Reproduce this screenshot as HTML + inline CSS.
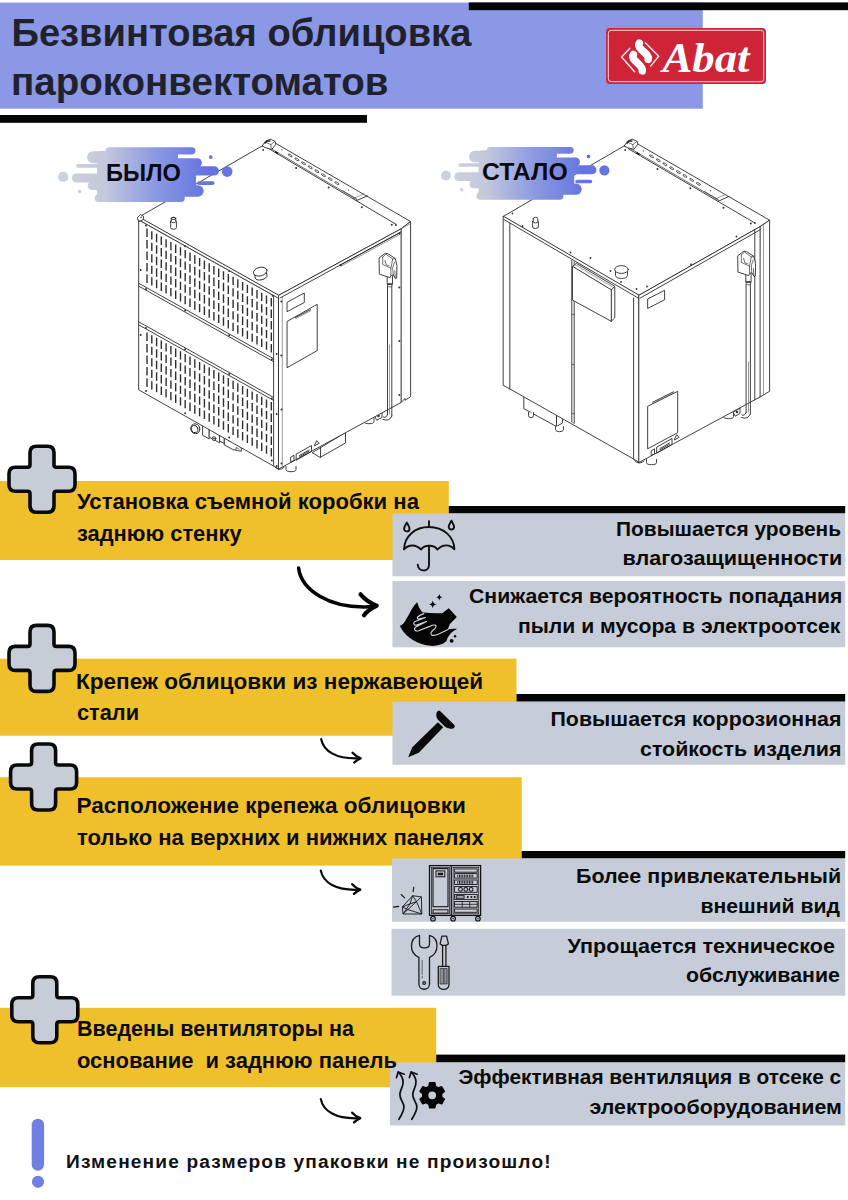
<!DOCTYPE html>
<html lang="ru"><head><meta charset="utf-8"><title>Безвинтовая облицовка пароконвектоматов</title>
<style>
html,body{margin:0;padding:0;background:#fff}
body{width:848px;height:1200px;overflow:hidden;position:relative}
svg{position:absolute;left:0;top:0;display:block}
text{font-family:"Liberation Sans", sans-serif;font-weight:bold;fill:#0b0b0b}
.ln{fill:none;stroke:#2b2b2b;stroke-width:0.9;stroke-linejoin:round;stroke-linecap:round}
.lw{fill:#fff;stroke:#2b2b2b;stroke-width:0.9;stroke-linejoin:round;stroke-linecap:round}
.th{fill:none;stroke:#555;stroke-width:0.6;stroke-linecap:round}
.th2{fill:none;stroke:#333;stroke-width:0.7;stroke-linecap:round;stroke-linejoin:round}
</style></head><body>
<svg width="848" height="1200" viewBox="0 0 848 1200">
<defs>
<linearGradient id="gs" gradientUnits="userSpaceOnUse" x1="72" y1="0" x2="205" y2="0">
<stop offset="0" stop-color="#ccd0d9"/><stop offset="0.25" stop-color="#c3c8dc"/><stop offset="0.6" stop-color="#8f9ce2"/><stop offset="1" stop-color="#6575df"/></linearGradient>
</defs>

<rect x="0" y="2.6" width="702.8" height="106.1" fill="#8a98e5"/>
<rect x="468.8" y="2.4" width="379.2" height="7.8" fill="#050505"/>
<rect x="0" y="115" width="367" height="7.8" fill="#050505"/>
<g id="logo">
<rect x="606" y="28" width="160" height="56" rx="4" fill="#cf2338"/>
<rect x="608.3" y="30.3" width="155.4" height="51.4" rx="3" fill="none" stroke="#f7d5d8" stroke-width="1"/>
<text x="662.5" y="71.5" style="font-family:'Liberation Serif',serif;font-style:italic;font-weight:bold;font-size:42px;fill:#fff" textLength="87" lengthAdjust="spacingAndGlyphs">Abat</text>
</g>
<g id="machines"><polygon class="lw" points="202.6,425 202.6,435.3 209.2,439 209.2,428"/><polygon class="lw" points="209.2,428 209.2,437 219.6,442.8 219.6,434"/><polygon class="lw" points="219.6,434 219.6,441 224.3,443.6 224.3,436"/><polygon class="lw" points="224.3,438 224.3,445 233,449.6 241.3,451.3 241.3,446"/><ellipse cx="195.3" cy="428.8" rx="4.5" ry="5" class="lw" transform="rotate(-20 195.3 428.8)"/><ellipse cx="194.6" cy="429.1" rx="3.2" ry="3.7" class="ln" transform="rotate(-20 194.6 429.1)"/><circle cx="214" cy="438.6" r="1.9" class="lw"/><circle cx="214" cy="438.6" r="0.9" fill="#333"/><circle cx="229.5" cy="440.5" r="1" fill="#333"/><polyline class="th2" points="236,449.8 236,447.5 239,449"/><polygon class="lw" points="312.5,452.5 345.5,432.5 345.5,443 320.5,457.2"/><polyline class="ln" points="320.5,457.2 320.5,448"/><path class="lw" d="M286 466.5 L286 469.5 A5 2.2 0 0 0 296 469.5 L296 466.5"/><path class="lw" d="M364 418.5 L364 421.5 A5 2.2 0 0 0 374 421.5 L374 418.5"/><polygon class="lw" points="375,416 382,412 382,417.5 377,420"/><circle cx="378.5" cy="416" r="1.3" fill="#333"/><polygon class="lw" points="139,217 262.3,145.8 269.8,139.9 410.6,221.5 401.1,228.8 278.8,295.3"/><polygon class="lw" points="401.1,228.8 410.6,221.5 410.6,396.8 405,400.2 405,398.5 401.1,402.5"/><polyline class="th" points="401.1,228.8 410.6,223.5"/><polygon class="lw" points="139,217 278.8,295.3 278.8,469 139,390"/><polygon class="lw" points="278.8,295.3 401.1,228.8 401.1,402.5 278.8,469"/><polyline class="ln" points="139.5,220.3 277.5,297.7"/><polyline class="ln" points="280,298 401.1,231.8"/><polyline class="ln" points="267,147.6 395.7,224.1"/><polyline class="th2" points="268.4,147.1 357,199.7"/><polyline class="ln" points="356.3,200.7 367.4,195.8"/><polyline class="th" points="352.9,198.7 364,193.8"/><ellipse cx="290.2" cy="155.4" rx="2.3" ry="0.85" transform="rotate(30.7 290.2 155.4)" fill="none" stroke="#333" stroke-width="0.75"/><ellipse cx="296.9" cy="159.3" rx="2.3" ry="0.85" transform="rotate(30.7 296.9 159.3)" fill="none" stroke="#333" stroke-width="0.75"/><ellipse cx="303.6" cy="163.3" rx="2.3" ry="0.85" transform="rotate(30.7 303.6 163.3)" fill="none" stroke="#333" stroke-width="0.75"/><ellipse cx="310.2" cy="167.3" rx="2.3" ry="0.85" transform="rotate(30.7 310.2 167.3)" fill="none" stroke="#333" stroke-width="0.75"/><ellipse cx="316.9" cy="171.2" rx="2.3" ry="0.85" transform="rotate(30.7 316.9 171.2)" fill="none" stroke="#333" stroke-width="0.75"/><ellipse cx="323.5" cy="175.2" rx="2.3" ry="0.85" transform="rotate(30.7 323.5 175.2)" fill="none" stroke="#333" stroke-width="0.75"/><ellipse cx="330.2" cy="179.1" rx="2.3" ry="0.85" transform="rotate(30.7 330.2 179.1)" fill="none" stroke="#333" stroke-width="0.75"/><ellipse cx="336.9" cy="183.1" rx="2.3" ry="0.85" transform="rotate(30.7 336.9 183.1)" fill="none" stroke="#333" stroke-width="0.75"/><circle cx="281.9" cy="149.8" r="0.6" fill="#333"/><circle cx="348.7" cy="190.1" r="0.6" fill="#333"/><path d="M275 151.7 L278 153.4" stroke="#111" stroke-width="1.6"/><polyline class="th2" points="342.6,190.6 356.4,198.8"/><circle cx="296.1" cy="168" r="1.0" fill="#333"/><circle cx="328.7" cy="187.5" r="1.0" fill="#333"/><circle cx="361.8" cy="207.2" r="1.0" fill="#333"/><circle cx="391.8" cy="224.7" r="1.0" fill="#333"/><polygon class="lw" points="262.3,145.8 265.5,141.2 270.3,139.2 274.9,141.2 275.9,144.2 271.8,149.4 266.5,148"/><polyline class="th2" points="265.9,142.4 270.9,144.6 274.9,141.4"/><polyline class="th2" points="270.9,144.6 271.2,148.4"/><path d="M264.7 143.6 L267.3 140.8 L270.5 141.2" stroke="#222" stroke-width="1.3" fill="none"/><circle cx="263.2" cy="150" r="0.9" fill="#333"/><polygon class="lw" points="137.6,217.5 140.5,214.6 143.5,216.2 143.3,219.6 139,221.5"/><circle cx="141.2" cy="217.3" r="0.8" fill="#333"/><g transform="translate(0 1.8)"><path class="lw" d="M170.6 219.5 L170.6 226 A2.9 1.4 0 0 0 176.4 226 L176.4 219.5 A2.9 1.4 0 0 0 170.6 219.5 Z"/><path class="lw" d="M171.3 216.6 L171.3 219.8 A2.2 1.1 0 0 0 175.7 219.8 L175.7 216.6 A2.2 1.1 0 0 0 171.3 216.6 Z"/><ellipse cx="173.5" cy="216.6" rx="2.2" ry="1.1" class="ln"/></g><path class="lw" d="M254.5 272.5 L254.5 276.8 A6 3.1 0 0 0 266.5 276.8 L266.5 272.5 Z" transform="rotate(-14 260.5 274)"/><ellipse cx="260.2" cy="271.6" rx="6.9" ry="4.3" class="lw" transform="rotate(-14 260.2 271.6)"/><polyline class="ln" points="139,283.4 273.6,358.8"/><polyline class="ln" points="139,286.3 273.6,361.7"/><polyline class="ln" points="139,322 273.6,397.4"/><polyline class="ln" points="139,325 273.6,400.4"/><polyline class="ln" points="273.6,295.4 273.6,465.4"/><polyline class="th" points="139.7,220.7 273.6,295.7"/><path d="M147 228.5v8.4M147 240v8.4M147 251.5v8.4M147 263v8.4M147 274.5v8.4M147 332.5v8.4M147 344v8.4M147 355.5v8.4M147 367v8.4M147 378.5v8.4M151.8 231.2v8.4M151.8 242.7v8.4M151.8 254.2v8.4M151.8 265.7v8.4M151.8 277.2v8.4M151.8 335.2v8.4M151.8 346.7v8.4M151.8 358.2v8.4M151.8 369.7v8.4M151.8 381.2v8.4M156.6 233.8v8.4M156.6 245.3v8.4M156.6 256.8v8.4M156.6 268.3v8.4M156.6 279.8v8.4M156.6 337.8v8.4M156.6 349.3v8.4M156.6 360.8v8.4M156.6 372.3v8.4M156.6 383.8v8.4M161.3 236.5v8.4M161.3 248v8.4M161.3 259.5v8.4M161.3 271v8.4M161.3 282.5v8.4M161.3 340.5v8.4M161.3 352v8.4M161.3 363.5v8.4M161.3 375v8.4M161.3 386.5v8.4M166.1 239.2v8.4M166.1 250.7v8.4M166.1 262.2v8.4M166.1 273.7v8.4M166.1 285.2v8.4M166.1 343.2v8.4M166.1 354.7v8.4M166.1 366.2v8.4M166.1 377.7v8.4M166.1 389.2v8.4M170.9 241.9v8.4M170.9 253.4v8.4M170.9 264.9v8.4M170.9 276.4v8.4M170.9 287.9v8.4M170.9 345.9v8.4M170.9 357.4v8.4M170.9 368.9v8.4M170.9 380.4v8.4M170.9 391.9v8.4M175.7 244.5v8.4M175.7 256v8.4M175.7 267.5v8.4M175.7 279v8.4M175.7 290.5v8.4M175.7 348.5v8.4M175.7 360v8.4M175.7 371.5v8.4M175.7 383v8.4M175.7 394.5v8.4M180.5 247.2v8.4M180.5 258.7v8.4M180.5 270.2v8.4M180.5 281.7v8.4M180.5 293.2v8.4M180.5 351.2v8.4M180.5 362.7v8.4M180.5 374.2v8.4M180.5 385.7v8.4M180.5 397.2v8.4M185.2 249.9v8.4M185.2 261.4v8.4M185.2 272.9v8.4M185.2 284.4v8.4M185.2 295.9v8.4M185.2 353.9v8.4M185.2 365.4v8.4M185.2 376.9v8.4M185.2 388.4v8.4M185.2 399.9v8.4M190 252.6v8.4M190 264.1v8.4M190 275.6v8.4M190 287.1v8.4M190 298.6v8.4M190 356.6v8.4M190 368.1v8.4M190 379.6v8.4M190 391.1v8.4M190 402.6v8.4M194.8 255.3v8.4M194.8 266.8v8.4M194.8 278.3v8.4M194.8 289.8v8.4M194.8 301.3v8.4M194.8 359.3v8.4M194.8 370.8v8.4M194.8 382.3v8.4M194.8 393.8v8.4M194.8 405.3v8.4M199.6 257.9v8.4M199.6 269.4v8.4M199.6 280.9v8.4M199.6 292.4v8.4M199.6 303.9v8.4M199.6 361.9v8.4M199.6 373.4v8.4M199.6 384.9v8.4M199.6 396.4v8.4M199.6 407.9v8.4M204.4 260.6v8.4M204.4 272.1v8.4M204.4 283.6v8.4M204.4 295.1v8.4M204.4 306.6v8.4M204.4 364.6v8.4M204.4 376.1v8.4M204.4 387.6v8.4M204.4 399.1v8.4M204.4 410.6v8.4M209.2 263.3v8.4M209.2 274.8v8.4M209.2 286.3v8.4M209.2 297.8v8.4M209.2 309.3v8.4M209.2 367.3v8.4M209.2 378.8v8.4M209.2 390.3v8.4M209.2 401.8v8.4M209.2 413.3v8.4M213.9 266v8.4M213.9 277.5v8.4M213.9 289v8.4M213.9 300.5v8.4M213.9 312v8.4M213.9 370v8.4M213.9 381.5v8.4M213.9 393v8.4M213.9 404.5v8.4M213.9 416v8.4M218.7 268.6v8.4M218.7 280.1v8.4M218.7 291.6v8.4M218.7 303.1v8.4M218.7 314.6v8.4M218.7 372.6v8.4M218.7 384.1v8.4M218.7 395.6v8.4M218.7 407.1v8.4M218.7 418.6v8.4M223.5 271.3v8.4M223.5 282.8v8.4M223.5 294.3v8.4M223.5 305.8v8.4M223.5 317.3v8.4M223.5 375.3v8.4M223.5 386.8v8.4M223.5 398.3v8.4M223.5 409.8v8.4M223.5 421.3v8.4M228.3 274v8.4M228.3 285.5v8.4M228.3 297v8.4M228.3 308.5v8.4M228.3 320v8.4M228.3 378v8.4M228.3 389.5v8.4M228.3 401v8.4M228.3 412.5v8.4M228.3 424v8.4M233.1 276.7v8.4M233.1 288.2v8.4M233.1 299.7v8.4M233.1 311.2v8.4M233.1 322.7v8.4M233.1 380.7v8.4M233.1 392.2v8.4M233.1 403.7v8.4M233.1 415.2v8.4M233.1 426.7v8.4M237.8 279.3v8.4M237.8 290.8v8.4M237.8 302.3v8.4M237.8 313.8v8.4M237.8 325.3v8.4M237.8 383.3v8.4M237.8 394.8v8.4M237.8 406.3v8.4M237.8 417.8v8.4M237.8 429.3v8.4M242.6 282v8.4M242.6 293.5v8.4M242.6 305v8.4M242.6 316.5v8.4M242.6 328v8.4M242.6 386v8.4M242.6 397.5v8.4M242.6 409v8.4M242.6 420.5v8.4M242.6 432v8.4M247.4 284.7v8.4M247.4 296.2v8.4M247.4 307.7v8.4M247.4 319.2v8.4M247.4 330.7v8.4M247.4 388.7v8.4M247.4 400.2v8.4M247.4 411.7v8.4M247.4 423.2v8.4M247.4 434.7v8.4M252.2 287.4v8.4M252.2 298.9v8.4M252.2 310.4v8.4M252.2 321.9v8.4M252.2 333.4v8.4M252.2 391.4v8.4M252.2 402.9v8.4M252.2 414.4v8.4M252.2 425.9v8.4M252.2 437.4v8.4M257 290.1v8.4M257 301.6v8.4M257 313.1v8.4M257 324.6v8.4M257 336.1v8.4M257 394.1v8.4M257 405.6v8.4M257 417.1v8.4M257 428.6v8.4M257 440.1v8.4M261.7 292.7v8.4M261.7 304.2v8.4M261.7 315.7v8.4M261.7 327.2v8.4M261.7 338.7v8.4M261.7 396.7v8.4M261.7 408.2v8.4M261.7 419.7v8.4M261.7 431.2v8.4M261.7 442.7v8.4M266.5 295.4v8.4M266.5 306.9v8.4M266.5 318.4v8.4M266.5 329.9v8.4M266.5 341.4v8.4M266.5 399.4v8.4M266.5 410.9v8.4M266.5 422.4v8.4M266.5 433.9v8.4M266.5 445.4v8.4M271.3 298.1v8.4M271.3 309.6v8.4M271.3 321.1v8.4M271.3 332.6v8.4M271.3 344.1v8.4M271.3 402.1v8.4M271.3 413.6v8.4M271.3 425.1v8.4M271.3 436.6v8.4M271.3 448.1v8.4" fill="none" stroke="#2e2e2e" stroke-width="1.4"/><circle cx="146" cy="225.4" r="1.0" fill="#333"/><circle cx="185.1" cy="246.3" r="1.0" fill="#333"/><circle cx="229.2" cy="271" r="1.0" fill="#333"/><circle cx="272.5" cy="295.8" r="1.0" fill="#333"/><circle cx="140.7" cy="269.9" r="1.0" fill="#333"/><circle cx="146" cy="288.9" r="1.0" fill="#333"/><circle cx="185.1" cy="310.6" r="1.0" fill="#333"/><circle cx="229.2" cy="335.3" r="1.0" fill="#333"/><circle cx="271.8" cy="359.4" r="1.0" fill="#333"/><circle cx="146" cy="327.9" r="1.0" fill="#333"/><circle cx="185.1" cy="349.3" r="1.0" fill="#333"/><circle cx="229.2" cy="374" r="1.0" fill="#333"/><circle cx="271.8" cy="398.4" r="1.0" fill="#333"/><circle cx="140.7" cy="334.9" r="1.0" fill="#333"/><circle cx="146" cy="390.9" r="1.0" fill="#333"/><circle cx="185.1" cy="413.3" r="1.0" fill="#333"/><circle cx="229.2" cy="437.5" r="1.0" fill="#333"/><circle cx="271.8" cy="460.4" r="1.0" fill="#333"/><circle cx="276.7" cy="354.1" r="1.0" fill="#333"/><circle cx="276.7" cy="414.1" r="1.0" fill="#333"/><circle cx="276.7" cy="466.1" r="1.0" fill="#333"/><polyline class="th" points="282.3,297 282.3,466.5"/><polygon class="ln" points="287.4,302.1 304.3,293 304.3,302.5 287.4,311.5"/><polygon class="ln" points="287.4,321.3 317.2,304.3 317.2,350.6 287.4,367.5"/><polyline class="ln" points="295.5,317.5 310.6,309.6"/><polyline class="th" points="295.8,318.6 310.9,310.7"/><polyline class="ln" points="340.8,264.7 400.2,232.6"/><polyline class="th" points="341.5,266 400.2,234.3"/><circle cx="340.6" cy="265.2" r="1.1" fill="#333"/><circle cx="399.3" cy="287.4" r="1.0" fill="#333"/><circle cx="399.3" cy="341.1" r="1.0" fill="#333"/><circle cx="399.3" cy="395" r="1.0" fill="#333"/><circle cx="281.3" cy="301.5" r="1.0" fill="#333"/><circle cx="281.3" cy="355.5" r="1.0" fill="#333"/><circle cx="281.5" cy="409.5" r="1.0" fill="#333"/><circle cx="281.5" cy="463.5" r="1.0" fill="#333"/><circle cx="399.5" cy="233.5" r="1.0" fill="#333"/><circle cx="395.8" cy="225.1" r="1.0" fill="#333"/><polyline class="ln" points="387.5,286 387.5,414.5"/><polyline class="ln" points="391.8,286 391.8,416"/><path class="ln" d="M387.5 414.5 Q386 418.5 383.5 417 M391.8 416 Q389.5 422 383 419.5"/><polyline class="th" points="389.5,345 389.5,414"/><polygon class="lw" points="379.4,257.7 385.3,253.3 387.9,253.7 395.2,258.4 396.9,265.4 396.7,278.2 395.4,278.7 393.3,274.9 391.1,275.5 390.1,277.7 379.7,274.3"/><polyline class="th2" points="382.7,257.2 382.7,264.5 390.9,268.2 390.9,275.5"/><polyline class="th2" points="382.7,257.2 386,254.2 392.7,259 390.9,268.2"/><polyline class="th2" points="392.7,259 395.2,258.4"/><polyline class="th2" points="385,260.3 386.2,264.8 389.2,265.9"/><polyline class="th2" points="393.2,274.9 392.7,267.7 394.5,262.4"/><polyline class="th2" points="394.8,270.7 395.2,277.7"/><polyline class="ln" points="387.2,277.1 387.2,283.3"/><polyline class="ln" points="392.5,276.1 392.5,283.3"/><path d="M386.9 284.1 L392.7 284.1" stroke="#222" stroke-width="1.6" fill="none"/><polyline class="th2" points="387.4,285.4 388.6,286.9 391.2,286.9 392.2,285.4"/><polygon class="ln" points="296.5,454 311.5,445.5 311.5,451.5 296.5,460"/><polyline class="ln" points="299.5,455.5 309,450"/><polyline class="ln" points="299.5,456.8 309,451.3"/><polygon class="ln" points="316.5,441 314.2,446 318.8,443.5"/><polygon class="ln" points="291,457 294,455.3 294,460.3 291,462"/><path class="ln" d="M274.5 466.5 Q278.8 472 284 467.5"/><polygon class="lw" points="523.8,396 523.8,408.7 556.5,426.5 556.5,414"/><polygon class="lw" points="556.5,414 556.5,426.5 562.5,423 562.5,417"/><path class="lw" d="M555.5 426.5 L555.5 429.5 A4 2.2 0 0 0 563.5 429.5 L563.5 426.5"/><path class="lw" d="M528.5 412.5 L528.5 415.5 A2.5 2.2 0 0 0 533.5 415.5 L533.5 412.5"/><path class="lw" d="M646.5 459.5 L646.5 462.5 A5 2.2 0 0 0 656.5 462.5 L656.5 459.5"/><path class="lw" d="M723.5 413.5 L723.5 416.5 A5 2.2 0 0 0 733.5 416.5 L733.5 413.5"/><polygon class="lw" points="733.5,412 740,408 740,413.5 735.5,416"/><circle cx="737" cy="412" r="1.3" fill="#333"/><polygon class="lw" points="503.5,216.3 624.3,145.8 631.2,140.2 769.6,220.2 760.1,226.6 639.1,295.2"/><polygon class="lw" points="760.1,226.6 769.6,220.2 769.6,391.3 759,397.6"/><polyline class="th" points="763.5,224.5 763.5,394.8"/><polygon class="lw" points="503.5,216.3 639.1,295.2 639.1,462.4 633.6,459 509.8,388.9 509.8,389 503.5,385.4"/><polygon class="lw" points="639.1,295.2 760.1,226.6 760.1,397 754.8,399.8 639.1,462.4"/><polyline class="ln" points="754.8,229.8 754.8,399.8"/><polyline class="ln" points="504,219.6 638.2,298"/><polyline class="ln" points="640,298.2 760.1,229.8"/><polyline class="ln" points="628.3,148.7 754.7,222.9"/><polyline class="th2" points="629.8,148.2 718.6,200.3"/><polyline class="ln" points="718,201.4 729,196.4"/><polyline class="th" points="714.5,199.3 725.6,194.4"/><ellipse cx="651.6" cy="156.4" rx="2.3" ry="0.85" transform="rotate(30.4 651.6 156.4)" fill="none" stroke="#333" stroke-width="0.75"/><ellipse cx="658.3" cy="160.3" rx="2.3" ry="0.85" transform="rotate(30.4 658.3 160.3)" fill="none" stroke="#333" stroke-width="0.75"/><ellipse cx="665" cy="164.2" rx="2.3" ry="0.85" transform="rotate(30.4 665 164.2)" fill="none" stroke="#333" stroke-width="0.75"/><ellipse cx="671.7" cy="168.2" rx="2.3" ry="0.85" transform="rotate(30.4 671.7 168.2)" fill="none" stroke="#333" stroke-width="0.75"/><ellipse cx="678.4" cy="172.1" rx="2.3" ry="0.85" transform="rotate(30.4 678.4 172.1)" fill="none" stroke="#333" stroke-width="0.75"/><ellipse cx="685" cy="176" rx="2.3" ry="0.85" transform="rotate(30.4 685 176)" fill="none" stroke="#333" stroke-width="0.75"/><ellipse cx="691.7" cy="179.9" rx="2.3" ry="0.85" transform="rotate(30.4 691.7 179.9)" fill="none" stroke="#333" stroke-width="0.75"/><ellipse cx="698.4" cy="183.9" rx="2.3" ry="0.85" transform="rotate(30.4 698.4 183.9)" fill="none" stroke="#333" stroke-width="0.75"/><circle cx="643.3" cy="150.9" r="0.6" fill="#333"/><circle cx="710.3" cy="190.7" r="0.6" fill="#333"/><path d="M636.4 152.8 L639.4 154.5" stroke="#111" stroke-width="1.6"/><polyline class="th2" points="704.2,191.3 718,199.4"/><circle cx="657.5" cy="169" r="1.0" fill="#333"/><circle cx="690.3" cy="188.3" r="1.0" fill="#333"/><circle cx="723.5" cy="207.8" r="1.0" fill="#333"/><circle cx="750.8" cy="223.6" r="1.0" fill="#333"/><polygon class="lw" points="624.3,145.8 627.5,141.2 632.3,139.2 636.9,141.2 637.9,144.2 633.8,149.4 628.5,148"/><polyline class="th2" points="627.9,142.4 632.9,144.6 636.9,141.4"/><polyline class="th2" points="632.9,144.6 633.2,148.4"/><path d="M626.7 143.6 L629.3 140.8 L632.5 141.2" stroke="#222" stroke-width="1.3" fill="none"/><circle cx="625.2" cy="150" r="0.9" fill="#333"/><path class="lw" d="M532.6 221.5 L532.6 227 A2.9 1.4 0 0 0 538.4 227 L538.4 221.5 A2.9 1.4 0 0 0 532.6 221.5 Z"/><path class="lw" d="M533.3 218.4 L533.3 221.8 A2.2 1.1 0 0 0 537.7 221.8 L537.7 218.4 A2.2 1.1 0 0 0 533.3 218.4 Z"/><path class="lw" d="M615.5 270.5 L615.5 275.5 A6 3 0 0 0 627.5 275.5 L627.5 270.5 Z"/><ellipse cx="621.5" cy="269.5" rx="6.8" ry="3.9" class="lw"/><circle cx="512.5" cy="213.5" r="0.9" fill="#333"/><circle cx="522.5" cy="226" r="0.9" fill="#333"/><circle cx="570.5" cy="252.5" r="0.9" fill="#333"/><circle cx="590.5" cy="258" r="0.9" fill="#333"/><circle cx="610.5" cy="271" r="0.9" fill="#333"/><circle cx="621" cy="282" r="0.9" fill="#333"/><circle cx="647" cy="286.5" r="0.9" fill="#333"/><circle cx="691" cy="264.5" r="0.9" fill="#333"/><circle cx="736.5" cy="236.5" r="0.9" fill="#333"/><circle cx="755" cy="223" r="0.9" fill="#333"/><circle cx="636.5" cy="289" r="0.9" fill="#333"/><polyline class="ln" points="509.8,223.3 509.8,388.9"/><polyline class="ln" points="633.6,298 633.6,459"/><polyline class="ln" points="571.8,260.5 571.8,421.8"/><polyline class="ln" points="574.2,262 574.2,423.2"/><polyline class="th" points="571.8,421.8 574.2,423.2"/><circle cx="573" cy="314.5" r="0.7" fill="#333"/><circle cx="573" cy="364.5" r="0.7" fill="#333"/><circle cx="573" cy="413.5" r="0.7" fill="#333"/><polygon class="lw" points="572.8,266.5 576.3,263.3 614.8,286.3 611.3,289.8"/><polygon class="lw" points="611.3,289.8 614.8,286.3 614.8,317.8 611.3,321.3"/><polygon class="lw" points="572.8,266.5 611.3,289.8 611.3,321.3 572.8,300.3"/><polyline class="th" points="575,264.5 612.5,287"/><polygon class="ln" points="648,298.8 664.6,290.3 664.6,299.8 648,308.3"/><polygon class="ln" points="648,406.1 677.7,391.3 677.7,432.7 648,448.6"/><polyline class="ln" points="652.5,402.3 673.5,391.8"/><polyline class="th" points="652.5,403.5 673.5,393"/><polygon class="ln" points="657,447 672,438.5 672,444.5 657,453"/><polyline class="ln" points="660,448.5 669.5,443"/><polyline class="ln" points="660,449.8 669.5,444.3"/><polygon class="ln" points="676.5,435 674.2,440 678.8,437.5"/><polygon class="ln" points="651.5,450.5 654.5,448.8 654.5,453.8 651.5,455.5"/><polyline class="ln" points="746.1,284 746.1,412.5"/><polyline class="ln" points="750.4,284 750.4,414"/><path class="ln" d="M746.1 412.5 Q744.5 416.5 742 415 M750.4 414 Q748 420 741.5 417.5"/><polyline class="th" points="748.5,362 748.5,412"/><polygon class="lw" points="738,255.6 743.9,251.2 746.5,251.6 753.8,256.3 755.5,263.3 755.3,276.1 754,276.6 751.9,272.8 749.7,273.4 748.7,275.6 738.3,272.2"/><polyline class="th2" points="741.3,255.1 741.3,262.4 749.5,266.1 749.5,273.4"/><polyline class="th2" points="741.3,255.1 744.6,252.1 751.3,256.9 749.5,266.1"/><polyline class="th2" points="751.3,256.9 753.8,256.3"/><polyline class="th2" points="743.6,258.2 744.8,262.7 747.8,263.8"/><polyline class="th2" points="751.8,272.8 751.3,265.6 753.1,260.3"/><polyline class="th2" points="753.4,268.6 753.8,275.6"/><polyline class="ln" points="745.8,275 745.8,281.2"/><polyline class="ln" points="751.1,274 751.1,281.2"/><path d="M745.5 282 L751.3 282" stroke="#222" stroke-width="1.6" fill="none"/><polyline class="th2" points="746,283.3 747.2,284.8 749.8,284.8 750.8,283.3"/><path class="ln" d="M634.5 460.5 Q639 465.5 644 461"/></g>
<rect x="0" y="481" width="448.8" height="79" fill="#f0c02c"/>
<rect x="0" y="658.7" width="516.5" height="77.0" fill="#f0c02c"/>
<rect x="0" y="777.2" width="521.7" height="88.39999999999998" fill="#f0c02c"/>
<rect x="0" y="1007.8" width="436.2" height="79.40000000000009" fill="#f0c02c"/>
<rect x="448.8" y="506" width="396.4" height="7.5" fill="#050505"/>
<rect x="516.5" y="694" width="328.7" height="7.7000000000000455" fill="#050505"/>
<rect x="521.7" y="851" width="323.5" height="7.5" fill="#050505"/>
<rect x="436.2" y="1054.6" width="409.0" height="7.900000000000091" fill="#050505"/>
<rect x="392.5" y="513.5" width="452.7" height="62.799999999999955" fill="#c6cdd8"/>
<rect x="392.5" y="581" width="452.7" height="66.29999999999995" fill="#c6cdd8"/>
<rect x="392.5" y="701.7" width="452.7" height="63.09999999999991" fill="#c6cdd8"/>
<rect x="392" y="858.5" width="453.2" height="63.299999999999955" fill="#c6cdd8"/>
<rect x="391.5" y="928.8" width="453.7" height="66.90000000000009" fill="#c6cdd8"/>
<rect x="389.9" y="1062.5" width="455.3" height="63.0" fill="#c6cdd8"/>
<text x="11.5" y="45.5" font-size="38" textLength="459.88" lengthAdjust="spacingAndGlyphs" style="fill:#20212c">Безвинтовая облицовка</text>
<text x="11.0" y="94.5" font-size="38" textLength="377.51" lengthAdjust="spacingAndGlyphs" style="fill:#20212c">пароконвектоматов</text>
<text x="77.0" y="509" font-size="21.2" textLength="341.95" lengthAdjust="spacingAndGlyphs">Установка съемной коробки на</text>
<text x="77.0" y="540.5" font-size="21.2" textLength="164.56" lengthAdjust="spacingAndGlyphs">заднюю стенку</text>
<text x="76.0" y="688.7" font-size="21.2" textLength="407.08" lengthAdjust="spacingAndGlyphs">Крепеж облицовки из нержавеющей</text>
<text x="77.0" y="719.8" font-size="21.2" textLength="62.01" lengthAdjust="spacingAndGlyphs">стали</text>
<text x="76.5" y="813.2" font-size="21.2" textLength="389.36" lengthAdjust="spacingAndGlyphs">Расположение крепежа облицовки</text>
<text x="77.0" y="844.5" font-size="21.2" textLength="406.65" lengthAdjust="spacingAndGlyphs">только на верхних и нижних панелях</text>
<text x="77.0" y="1036.2" font-size="21.2" textLength="276.95" lengthAdjust="spacingAndGlyphs">Введены вентиляторы на</text>
<text x="77.0" y="1067.8" font-size="21.2" textLength="320.05" lengthAdjust="spacingAndGlyphs" xml:space="preserve">основание  и заднюю панель</text>
<text x="616.0" y="535.6" font-size="19.8" textLength="225.08" lengthAdjust="spacingAndGlyphs">Повышается уровень</text>
<text x="622.5" y="565.4" font-size="19.8" textLength="219.74" lengthAdjust="spacingAndGlyphs">влагозащищенности</text>
<text x="469.0" y="603" font-size="19.8" textLength="373.38" lengthAdjust="spacingAndGlyphs">Снижается вероятность попадания</text>
<text x="518.0" y="633" font-size="19.8" textLength="322.44" lengthAdjust="spacingAndGlyphs">пыли и мусора в электроотсек</text>
<text x="550.5" y="726.2" font-size="19.8" textLength="290.97" lengthAdjust="spacingAndGlyphs">Повышается коррозионная</text>
<text x="640.0" y="756.2" font-size="19.8" textLength="201.51" lengthAdjust="spacingAndGlyphs">стойкость изделия</text>
<text x="576.0" y="883" font-size="19.8" textLength="265.13" lengthAdjust="spacingAndGlyphs">Более привлекательный</text>
<text x="700.5" y="912.8" font-size="19.8" textLength="139.42" lengthAdjust="spacingAndGlyphs">внешний вид</text>
<text x="567.5" y="952.8" font-size="19.8" textLength="267.42" lengthAdjust="spacingAndGlyphs">Упрощается техническое</text>
<text x="686.0" y="982.4" font-size="19.8" textLength="153.86" lengthAdjust="spacingAndGlyphs">обслуживание</text>
<text x="458.5" y="1084.2" font-size="19.8" textLength="382.66" lengthAdjust="spacingAndGlyphs">Эффективная вентиляция в отсеке с</text>
<text x="589.5" y="1114.1" font-size="19.8" textLength="252.34" lengthAdjust="spacingAndGlyphs">электрооборудованием</text>
<text x="66.0" y="1167.8" font-size="18.3" textLength="485.73" lengthAdjust="spacingAndGlyphs" style="fill:#111" letter-spacing="1.1">Изменение размеров упаковки не произошло!</text>
<rect x="31.7" y="1118.8" width="12.4" height="52" rx="6.2" fill="#7080e2"/><circle cx="38" cy="1181.8" r="6.1" fill="#7080e2"/>
<g id="bylo"><g fill="url(#gs)"><rect x="105.4" y="147.2" width="90" height="7.2" rx="3.6"/><rect x="87.1" y="151.2" width="88.9" height="12" rx="6"/><rect x="76" y="164.1" width="24" height="3.7" rx="1.9"/><rect x="71.8" y="173.4" width="48.2" height="9.2" rx="4.6"/><rect x="87.7" y="181.5" width="42.3" height="8.5" rx="4.2"/><rect x="94.8" y="194.2" width="90" height="7.8" rx="3.9"/><rect x="161.9" y="158.3" width="40" height="8.9" rx="4.4"/><rect x="170" y="166.3" width="49" height="9.3" rx="4.6"/><rect x="197" y="181.3" width="17.6" height="3.6" rx="1.8"/><rect x="160" y="185.2" width="43.7" height="11.6" rx="5.8"/><rect x="97" y="151" width="80" height="48" rx="3"/><rect x="112" y="149" width="66" height="52"/><rect x="150" y="160" width="46" height="36" rx="3"/><circle cx="63.2" cy="176.9" r="5.1"/><circle cx="79.5" cy="191.5" r="1.7"/><circle cx="227.2" cy="171.6" r="5.3"/><circle cx="210.7" cy="157.1" r="1.9"/></g><text x="106.0" y="180.5" font-size="23.6" textLength="74.98" lengthAdjust="spacingAndGlyphs" style="fill:#0a0a14">БЫЛО</text></g><g id="stalo"><g transform="translate(384.9 4.7) scale(0.966)"><g fill="url(#gs)"><rect x="105.4" y="147.2" width="90" height="7.2" rx="3.6"/><rect x="87.1" y="151.2" width="88.9" height="12" rx="6"/><rect x="76" y="164.1" width="24" height="3.7" rx="1.9"/><rect x="71.8" y="173.4" width="48.2" height="9.2" rx="4.6"/><rect x="87.7" y="181.5" width="42.3" height="8.5" rx="4.2"/><rect x="94.8" y="194.2" width="90" height="7.8" rx="3.9"/><rect x="161.9" y="158.3" width="40" height="8.9" rx="4.4"/><rect x="170" y="166.3" width="49" height="9.3" rx="4.6"/><rect x="197" y="181.3" width="17.6" height="3.6" rx="1.8"/><rect x="160" y="185.2" width="43.7" height="11.6" rx="5.8"/><rect x="97" y="151" width="80" height="48" rx="3"/><rect x="112" y="149" width="66" height="52"/><rect x="150" y="160" width="46" height="36" rx="3"/><circle cx="63.2" cy="176.9" r="5.1"/><circle cx="79.5" cy="191.5" r="1.7"/><circle cx="227.2" cy="171.6" r="5.3"/><circle cx="210.7" cy="157.1" r="1.9"/></g></g><text x="482.0" y="179.8" font-size="23.6" textLength="85.71" lengthAdjust="spacingAndGlyphs" style="fill:#0a0a14">СТАЛО</text></g><path d="M30 452.8 Q30 446.3 36.5 446.3 L47.5 446.3 Q54 446.3 54 452.8 L54 464.8 Q54 467.3 56.5 467.3 L68.5 467.3 Q75 467.3 75 473.8 L75 484.8 Q75 491.3 68.5 491.3 L56.5 491.3 Q54 491.3 54 493.8 L54 505.8 Q54 512.3 47.5 512.3 L36.5 512.3 Q30 512.3 30 505.8 L30 493.8 Q30 491.3 27.5 491.3 L15.5 491.3 Q9 491.3 9 484.8 L9 473.8 Q9 467.3 15.5 467.3 L27.5 467.3 Q30 467.3 30 464.8 Z" fill="#c6cdd7" stroke="#0a0a0a" stroke-width="3.6" stroke-linejoin="round"/><path d="M30 631.9 Q30 625.4 36.5 625.4 L47.5 625.4 Q54 625.4 54 631.9 L54 643.9 Q54 646.4 56.5 646.4 L68.5 646.4 Q75 646.4 75 652.9 L75 663.9 Q75 670.4 68.5 670.4 L56.5 670.4 Q54 670.4 54 672.9 L54 684.9 Q54 691.4 47.5 691.4 L36.5 691.4 Q30 691.4 30 684.9 L30 672.9 Q30 670.4 27.5 670.4 L15.5 670.4 Q9 670.4 9 663.9 L9 652.9 Q9 646.4 15.5 646.4 L27.5 646.4 Q30 646.4 30 643.9 Z" fill="#c6cdd7" stroke="#0a0a0a" stroke-width="3.6" stroke-linejoin="round"/><path d="M31.6 750.5 Q31.6 744 38.1 744 L49.1 744 Q55.6 744 55.6 750.5 L55.6 762.5 Q55.6 765 58.1 765 L70.1 765 Q76.6 765 76.6 771.5 L76.6 782.5 Q76.6 789 70.1 789 L58.1 789 Q55.6 789 55.6 791.5 L55.6 803.5 Q55.6 810 49.1 810 L38.1 810 Q31.6 810 31.6 803.5 L31.6 791.5 Q31.6 789 29.1 789 L17.1 789 Q10.6 789 10.6 782.5 L10.6 771.5 Q10.6 765 17.1 765 L29.1 765 Q31.6 765 31.6 762.5 Z" fill="#c6cdd7" stroke="#0a0a0a" stroke-width="3.6" stroke-linejoin="round"/><path d="M32.8 983.3 Q32.8 976.8 39.3 976.8 L50.3 976.8 Q56.8 976.8 56.8 983.3 L56.8 995.3 Q56.8 997.8 59.3 997.8 L71.3 997.8 Q77.8 997.8 77.8 1004.3 L77.8 1015.3 Q77.8 1021.8 71.3 1021.8 L59.3 1021.8 Q56.8 1021.8 56.8 1024.3 L56.8 1036.3 Q56.8 1042.8 50.3 1042.8 L39.3 1042.8 Q32.8 1042.8 32.8 1036.3 L32.8 1024.3 Q32.8 1021.8 30.3 1021.8 L18.3 1021.8 Q11.8 1021.8 11.8 1015.3 L11.8 1004.3 Q11.8 997.8 18.3 997.8 L30.3 997.8 Q32.8 997.8 32.8 995.3 Z" fill="#c6cdd7" stroke="#0a0a0a" stroke-width="3.6" stroke-linejoin="round"/><g fill="none" stroke="#050505" stroke-linecap="round" stroke-linejoin="round"><path d="M298.6 568 C301 588 327 610.5 375.5 606.5" stroke-width="3.5"/><path d="M360.5 594.3 C365 599.5 371 603.5 376.8 605.6 C371 608.5 366.5 611.5 364 615.3" stroke-width="4.2"/></g><g transform="translate(0 0)" fill="none" stroke="#0a0a0a" stroke-linecap="round" stroke-linejoin="round"><path d="M321.2 739.2 C323.5 751 336 759.5 360 758.3" stroke-width="2.2"/><path d="M352.6 752.8 C355 755.5 358 757.3 360.6 758.3 C358 759.6 355.8 761 354.4 762.4" stroke-width="2.4"/></g><g transform="translate(-0.4 131.4)" fill="none" stroke="#0a0a0a" stroke-linecap="round" stroke-linejoin="round"><path d="M321.2 739.2 C323.5 751 336 759.5 360 758.3" stroke-width="2.2"/><path d="M352.6 752.8 C355 755.5 358 757.3 360.6 758.3 C358 759.6 355.8 761 354.4 762.4" stroke-width="2.4"/></g><g transform="translate(-0.4 359.9)" fill="none" stroke="#0a0a0a" stroke-linecap="round" stroke-linejoin="round"><path d="M321.2 739.2 C323.5 751 336 759.5 360 758.3" stroke-width="2.2"/><path d="M352.6 752.8 C355 755.5 358 757.3 360.6 758.3 C358 759.6 355.8 761 354.4 762.4" stroke-width="2.4"/></g><g fill="none" stroke="#111" stroke-width="1.9" stroke-linecap="round" stroke-linejoin="round"><path d="M404 549.3 C404.5 536 415 527 429 527 C443.5 527 454 536.5 454.4 549.3 C449.5 544 443 544.3 437.3 549.5 C434 544.5 424.5 544.5 421.2 549.5 C416 544.3 409 544 404 549.3 Z"/><path d="M429 521.3 V527 M429 545.8 V565 C429 572.3 418.5 572.3 417.7 564.6"/><path d="M406.8 522.6 C408.2 525.2 409.5 526.9 409.5 528.7 A2.7 2.7 0 0 1 404.1 528.7 C404.1 526.9 405.4 525.2 406.8 522.6 Z"/><path d="M451.4 520.7 C452.8 523.3 454.1 525 454.1 526.8 A2.7 2.7 0 0 1 448.7 526.8 C448.7 525 450 523.3 451.4 520.7 Z"/></g><g><path d="M399.7 625.8 C406.3 624.3 410.1 608.3 417.2 602.2 C418.6 607.4 420.5 610.2 422.8 612.5 C429 613.2 435.6 613.5 442.2 613.2 L448.8 608.3 L456.8 617 L449.7 624.3 L447.8 629.5 C451.6 628.9 454.4 628.6 457.1 628.9 C451.6 631.4 447.8 635.7 446.4 641.3 C440.3 646.5 431.8 646.5 425.2 645.1 C413.9 642.3 404.4 635.7 399.7 625.8 Z" fill="#050505"/><path d="M432.7 600.4 Q433.2 603.9 436.7 604.3 Q433.2 604.8 432.7 608.3 Q432.3 604.8 428.8 604.3 Q432.3 603.9 432.7 600.4 Z M439.3 593.9 Q439.7 596.9 442.7 597.3 Q439.7 597.7 439.3 600.7 Q438.9 597.7 435.9 597.3 Q438.9 596.9 439.3 593.9 Z " fill="#050505"/><path d="M423.8 613.6 C421.4 614.2 419.1 615.7 417.6 617 Q416.7 618.5 418.6 619.1 L425.4 617.5 L415 621.5 Q412.9 622.9 414.3 624.7 Q415.3 625.5 416.5 625.1 L426.4 621.5 L415.4 627.2 Q413.7 628.6 415 630.2 Q416.5 631.4 418.6 630.7 L429.7 626.4 C433.2 624.5 437.5 624.3 435.6 627.6 C432.7 630.9 429.4 632.8 431.6 634.9 C433.7 636.1 437 634.9 439.3 633.8 L448 629.4 " fill="none" stroke="#d0d5de" stroke-width="1.15" stroke-linecap="round" stroke-linejoin="round"/><circle cx="451.6" cy="640.8" r="1.9" fill="#050505"/><circle cx="455.1" cy="636.2" r="1.2" fill="#050505"/></g><g fill="#0a0a0a"><polygon points="408.2,757.3 412.3,747.2 437.9,722.2 443.3,727.3 418.8,752.7"/><path d="M436.3 714.8 C436.3 711.5 438.5 710 440.3 711.3 L454.6 725.2 C455.4 727.2 453.2 729.4 449.5 728.6 C446.5 728.2 445 726.8 443.2 725 L438.2 720 C436.8 718.3 436.3 716.8 436.3 714.8 Z"/></g><g fill="none" stroke="#141414" stroke-width="1.1"><rect x="429.5" y="865.6" width="51.1" height="49.8" stroke-width="1.3"/><rect x="431.5" y="867.3" width="18" height="46.5" stroke-width="0.7"/><rect x="433" y="868.6" width="15" height="38.1" stroke-width="1.1"/><rect x="436" y="870.9" width="8.8" height="5.9" stroke-width="1"/><rect x="437.8" y="872.7" width="5.3" height="2.6" fill="#1a1a1a" stroke="none"/><rect x="433" y="909.8" width="15" height="3.3" stroke-width="1"/><path d="M451.3 865.6 V915.4" stroke-width="1.3"/><rect x="453.1" y="867.3" width="25.6" height="46.5" stroke-width="0.7"/><rect x="454.6" y="868.9" width="22.6" height="3.3" stroke-width="0.9"/><rect x="454.6" y="873.6" width="22.6" height="4.5" stroke-width="0.9"/><rect x="454.6" y="880" width="22.6" height="4.5" stroke-width="0.9"/><rect x="454.6" y="886.6" width="22.6" height="5.7" stroke-width="0.9"/><rect x="454.6" y="894.4" width="22.6" height="5" stroke-width="0.9"/><rect x="454.6" y="901.5" width="22.6" height="5.7" stroke-width="0.9"/><rect x="454.6" y="909" width="22.6" height="3.3" stroke-width="0.9"/><path d="M457.8 874.6V877.4M459.5 874.6V877.4M461.1 874.6V877.4M462.8 874.6V877.4M464.4 874.6V877.4M466.1 874.6V877.4M467.7 874.6V877.4M469.4 874.6V877.4M471 874.6V877.4M472.7 874.6V877.4" stroke-width="0.9"/><path d="M457.8 880.9V883.8M459.5 880.9V883.8M461.1 880.9V883.8M462.8 880.9V883.8M464.4 880.9V883.8M466.1 880.9V883.8M467.7 880.9V883.8M469.4 880.9V883.8M471 880.9V883.8M472.7 880.9V883.8" stroke-width="0.9"/><circle cx="460.5" cy="889.4" r="1.9" stroke-width="1.1"/><circle cx="465.8" cy="889.4" r="1.9" stroke-width="1.1"/><circle cx="471.1" cy="889.4" r="1.9" stroke-width="1.1"/><rect x="456.3" y="895.7" width="7.8" height="2.5" stroke-width="1"/><circle cx="467.8" cy="897" r="0.5" fill="#1a1a1a"/><circle cx="471.4" cy="897" r="0.5" fill="#1a1a1a"/><circle cx="474.7" cy="897" r="0.5" fill="#1a1a1a"/><path d="M454.6 904.3H477.3M462.2 901.5V907.1M469.7 901.5V907.1" stroke-width="0.8"/><circle cx="433" cy="918.7" r="2.3" stroke-width="1.2"/><circle cx="433" cy="918.7" r="0.7" fill="#1a1a1a" stroke="none"/><circle cx="453.1" cy="918.7" r="2.3" stroke-width="1.2"/><circle cx="453.1" cy="918.7" r="0.7" fill="#1a1a1a" stroke="none"/><circle cx="477.9" cy="918.7" r="2.3" stroke-width="1.2"/><circle cx="477.9" cy="918.7" r="0.7" fill="#1a1a1a" stroke="none"/><path d="M402.4 906.9 L412.6 895.7 L421.4 896.9 L421.8 914 L403 914 Z M402.4 906.9 L410 903.9 L412.6 895.7 M410 903.9 L416.5 901.6 L421.4 896.9 M416.5 901.6 L412.6 895.7 M403 914 L410 903.9 M403 914 L416.5 901.6 L421.8 914 M407.7 909.5 L421.8 914 M402.4 906.9 L407.7 909.5" stroke-width="0.9" stroke-linejoin="round"/><path d="M413.8 887.1 L413.1 891.6 M401.2 894.5 L404.6 897.9 M393.5 907.1 L398.7 906.4" stroke-width="1.1" stroke-linecap="round"/></g><g fill="none" stroke="#1c1c1c" stroke-width="1.3" stroke-linejoin="round" stroke-linecap="round"><path d="M419.5 935.4 C408.9 938 408.9 953.3 418.9 957.4 L418.9 984 C418.9 991 429.5 991 429.5 984 L429.5 957.4 C439.5 953.3 439.5 938 429.5 935.4 L429.5 943.9 C429.5 949.2 419.5 949.2 419.5 943.9 Z"/><circle cx="424.2" cy="983" r="1.3"/><path d="M422.1 960.4 V974.5 M422.1 976.3 V978.1" stroke-width="0.6"/><path d="M441.9 936.2 L446.6 936.2 L448.4 943.9 L446.4 945.3 L442.1 945.3 L440.1 943.9 Z"/><path d="M442.6 945.3 V965.7 M445.9 945.3 V965.7"/><path d="M438.3 966.3 L449 966.3 L449 984.6 C449 991 438.3 991 438.3 984.6 Z"/><path d="M440.5 968.4 H447.1 V984 H440.5 Z" fill="#8a8f97" stroke-width="0.7"/><path d="M443.8 969.2 V983.4" stroke-width="0.7"/></g><g fill="none" stroke="#101018" stroke-width="1.75" stroke-linejoin="round" stroke-linecap="round"><path d="M398.9 1119.3 C401.5 1115.1 404.3 1110.4 403.9 1106.1 C403.4 1101.9 399.6 1099.1 399.9 1094.3 C400.1 1089.6 403.4 1086.8 403.1 1081.6 C402.9 1077.8 400.6 1074.5 398.4 1072.2"/><path d="M396.5 1077.6 L398.2 1072 L404.2 1074.2"/><path d="M411.8 1119.3 C414.4 1115.1 417.3 1110.4 416.8 1106.1 C416.3 1101.9 412.5 1099.1 412.8 1094.3 C413 1089.6 416.3 1086.8 416 1081.6 C415.8 1077.8 413.5 1074.5 411.3 1072.2"/><path d="M409.4 1077.6 L411.1 1072 L417.1 1074.2"/></g><path d="M429.1 1086.2 L429.6 1082.9 L434.8 1082.9 L435.3 1086.2 L438.5 1088.1 L441.6 1086.8 L444.3 1091.4 L441.6 1093.5 L441.6 1097.1 L444.3 1099.2 L441.6 1103.8 L438.5 1102.5 L435.3 1104.4 L434.8 1107.7 L429.6 1107.7 L429.1 1104.4 L425.9 1102.5 L422.8 1103.8 L420.1 1099.2 L422.8 1097.1 L422.8 1093.5 L420.1 1091.4 L422.8 1086.8 L425.9 1088.1 Z M436.9 1095.3 A4.7 4.7 0 1 0 427.5 1095.3 A4.7 4.7 0 1 0 436.9 1095.3 Z" fill="#060606" fill-rule="evenodd" stroke="#060606" stroke-width="1.6" stroke-linejoin="round"/><g fill="none" stroke-linecap="round" stroke-linejoin="round"><path d="M629.7 48.4 L621.6 56.9 L634.6 71.8 M645.3 42.7 L658.7 56.2 L650.6 66.1" stroke="#fbe3e6" stroke-width="1.5"/><path d="M633.4 54.6 C630.2 60.4 643.3 64.7 642.3 70.8" stroke="#fff" stroke-width="7.6"/><path d="M639.3 43.2 C636.3 49.1 649.6 53.4 648.3 59.3" stroke="#cf2338" stroke-width="10.4"/><path d="M639.3 43.2 C636.3 49.1 649.6 53.4 648.3 59.3" stroke="#fff" stroke-width="7.6"/></g>
</svg></body></html>
